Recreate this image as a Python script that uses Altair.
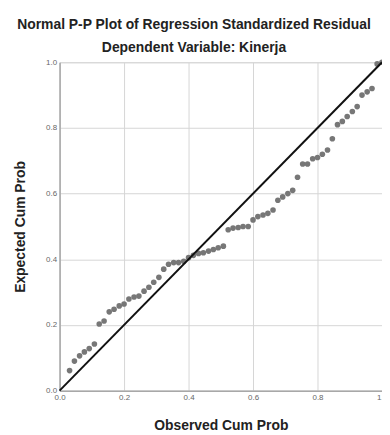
import altair as alt
import pandas as pd

observed = [0.031, 0.046, 0.062, 0.077, 0.092, 0.108,
            0.123, 0.138, 0.154, 0.169, 0.185, 0.200, 0.215, 0.231, 0.246, 0.262,
            0.277, 0.292, 0.308, 0.323, 0.338, 0.354, 0.369, 0.385,
            0.400, 0.415, 0.431, 0.446, 0.462, 0.477, 0.492, 0.508,
            0.523, 0.538, 0.554, 0.569, 0.585,
            0.600, 0.615, 0.631, 0.646, 0.662,
            0.677, 0.692, 0.708, 0.723,
            0.738,
            0.754, 0.769, 0.785, 0.800, 0.815, 0.831,
            0.846,
            0.862, 0.877, 0.892, 0.908, 0.923, 0.938, 0.954, 0.969, 0.985, 1.0]
expected = [0.061, 0.090, 0.106, 0.118, 0.128, 0.142,
            0.203, 0.212, 0.240, 0.248, 0.258, 0.264, 0.279, 0.285, 0.288, 0.303,
            0.315, 0.330, 0.345, 0.370, 0.385, 0.390, 0.390, 0.394,
            0.405, 0.412, 0.418, 0.420, 0.425, 0.430, 0.435, 0.440,
            0.490, 0.495, 0.497, 0.500, 0.500,
            0.520, 0.530, 0.535, 0.540, 0.550,
            0.580, 0.590, 0.600, 0.610,
            0.650,
            0.690, 0.690, 0.706, 0.710, 0.720, 0.733,
            0.767,
            0.810, 0.820, 0.835, 0.850, 0.865, 0.900, 0.910, 0.920, 0.995, 1.0]
diag_x = [0.0, 1.0]
diag_y = [0.0, 1.0]
ticks = [0.0, 0.2, 0.4, 0.6, 0.8, 1.0]

pts = pd.DataFrame({"obs": observed, "exp": expected})
diag = pd.DataFrame({"obs": diag_x, "exp": diag_y})

xs = alt.Scale(domain=[0, 1], nice=False, zero=False)
ys = alt.Scale(domain=[0, 1], nice=False, zero=False)

xax = alt.Axis(title="Observed Cum Prob", values=ticks, format=".1f", grid=True,
               gridColor="#d6d6d6", domainColor="#a8a8a8", domainWidth=1.5,
               ticks=False, labelFontSize=8, labelColor="#666666", labelPadding=3,
               titleFontSize=14, titleFontWeight="bold", titleColor="#222222",
               titlePadding=17, labelFlush=False)
yax = alt.Axis(title="Expected Cum Prob", values=ticks, format=".1f", grid=True,
               gridColor="#d6d6d6", domainColor="#a8a8a8", domainWidth=1.5,
               ticks=False, labelFontSize=8, labelColor="#666666", labelPadding=3,
               titleFontSize=14, titleFontWeight="bold", titleColor="#222222",
               titlePadding=18, labelFlush=False)

points = alt.Chart(pts).mark_circle(size=32, color="#777777", opacity=1).encode(
    x=alt.X("obs:Q", scale=xs, axis=xax),
    y=alt.Y("exp:Q", scale=ys, axis=yax),
)
line = alt.Chart(diag).mark_line(color="#111111", strokeWidth=2).encode(
    x=alt.X("obs:Q", scale=xs),
    y=alt.Y("exp:Q", scale=ys),
)

chart = alt.layer(points, line).properties(
    width=325, height=331,
    title=alt.TitleParams(
        text="Normal P-P Plot of Regression Standardized Residual",
        subtitle="Dependent Variable: Kinerja",
        fontSize=14, fontWeight="bold", color="#222222",
        subtitleFontSize=14, subtitleFontWeight="bold", subtitleColor="#222222",
        subtitlePadding=10, anchor="middle", dx=-27, offset=3, font="Liberation Sans",
        subtitleFont="Liberation Sans",
    ),
    autosize=alt.AutoSizeParams(type="none"),
    padding={"left": 52, "top": 53, "right": 0, "bottom": 42},
).configure_view(stroke=None).configure(font="Liberation Sans")

chart.save("out.html", embed_options={"renderer": "svg", "actions": False})
